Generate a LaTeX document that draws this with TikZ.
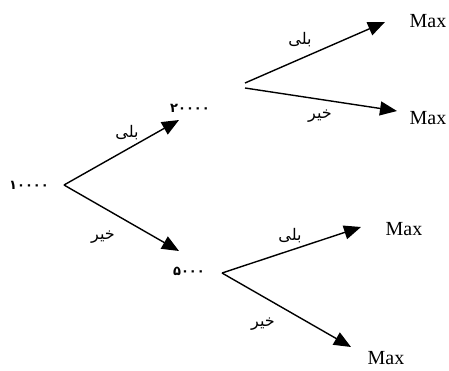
\documentclass[tikz,border=0pt]{standalone}
\usepackage{fontspec}
\setmainfont{Liberation Serif}
\newfontfamily\arabicfont[Script=Arabic]{DejaVu Sans}
\TeXXeTstate=1
\usetikzlibrary{arrows.meta}
\tikzset{
  branch/.style={line width=1.4pt, -{Triangle[length=17pt,width=14pt]}},
  maxlbl/.style={font=\fontsize{20}{20}\selectfont, inner sep=0pt},
  numlbl/.style={font=\arabicfont\bfseries\fontsize{13}{13}\selectfont, inner sep=0pt},
  arlbl/.style={font=\arabicfont\fontsize{16}{16}\selectfont, inner sep=0pt}
}
\begin{document}
\begin{tikzpicture}[x=1pt,y=-1pt]
\useasboundingbox (0,0) rectangle (449,370);
% value labels
\node[numlbl] (n10000) at (29,185) {۱۰۰۰۰};
\node[numlbl] (n20000) at (190,108) {۲۰۰۰۰};
\node[numlbl] (n5000) at (189,271) {۵۰۰۰};
% branch points and tips
\coordinate (r) at (64,185);
\coordinate (t1) at (179,120);
\coordinate (t2) at (179,251);
\coordinate (a1) at (245,83);
\coordinate (a2) at (245,88);
\coordinate (ta1) at (385,22);
\coordinate (ta2) at (397,111);
\coordinate (b) at (222,273);
\coordinate (tb1) at (361,227);
\coordinate (tb2) at (351,347);
% Max labels
\node[maxlbl] (m1) at (428,21) {Max};
\node[maxlbl] (m2) at (428,118) {Max};
\node[maxlbl] (m3) at (404,229) {Max};
\node[maxlbl] (m4) at (386,358) {Max};
% arrows
\draw[branch] (r) -- (t1);
\draw[branch] (r) -- (t2);
\draw[branch] (a1) -- (ta1);
\draw[branch] (a2) -- (ta2);
\draw[branch] (b) -- (tb1);
\draw[branch] (b) -- (tb2);
% yes / no labels
\node[arlbl] (y1) at (127,133) {\beginR بلی\endR};
\node[arlbl] (no1) at (103,237) {\beginR خیر\endR};
\node[arlbl] (y2) at (300,40) {\beginR بلی\endR};
\node[arlbl] (no2) at (320,116) {\beginR خیر\endR};
\node[arlbl] (y3) at (290,236) {\beginR بلی\endR};
\node[arlbl] (no3) at (263,324) {\beginR خیر\endR};
\end{tikzpicture}
\end{document}
